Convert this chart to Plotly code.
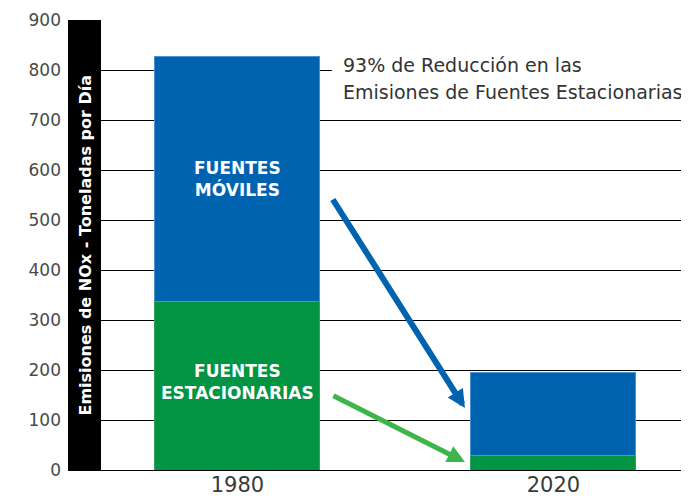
import plotly.graph_objects as go

years = ["1980", "2020"]
x_pos = [0, 1]
estacionarias = [338, 29]
moviles = [490, 166]
y_ticks = [0, 100, 200, 300, 400, 500, 600, 700, 800, 900]

BLUE = "#0063b0"
GREEN = "#009443"
FONT = "DejaVu Sans"
X_RANGE = [-0.536, 1.429]

fig = go.Figure()
fig.add_trace(go.Bar(x=x_pos, y=estacionarias, marker=dict(color=GREEN, line=dict(color="#2fa35a", width=1)),
                     width=0.522, showlegend=False, hoverinfo="skip"))
fig.add_trace(go.Bar(x=x_pos, y=moviles, marker=dict(color=BLUE, line=dict(color="#4f92d4", width=1)),
                     width=0.522, showlegend=False, hoverinfo="skip"))

# body has an 8px default margin in the page, so compensate
fig.update_layout(
    barmode="stack",
    width=681, height=496,
    margin=dict(l=60, r=0, t=12, b=34, pad=0),
    paper_bgcolor="white", plot_bgcolor="white",
    font=dict(family=FONT, color="#444"),
    xaxis=dict(range=X_RANGE, tickvals=x_pos, ticktext=years, showgrid=False,
               zeroline=False, tickfont=dict(family=FONT, size=21, color="#3a3a3a"),
               ticks="", showline=False),
    yaxis=dict(range=[0, 900], tickvals=y_ticks, showgrid=True, gridcolor="black", gridwidth=1,
               zeroline=True, zerolinecolor="black", zerolinewidth=1,
               tickfont=dict(family=FONT, size=17, color="#4a4a4a"), ticks="",
               ticklabelstandoff=6),
)

# black band behind the y-axis title
fig.add_shape(type="rect", xref="paper", yref="paper", x0=0, x1=33/621, y0=0, y1=1,
              fillcolor="black", line=dict(width=0), layer="above")
fig.add_annotation(xref="paper", yref="paper", x=16.5/621, y=0.5, xanchor="center", yanchor="middle",
                   text="<b>Emisiones de NOx - Toneladas por Día</b>", textangle=-90,
                   showarrow=False, font=dict(family=FONT, size=16, color="white"))

# white box behind the note (hides grid lines)
fig.add_shape(type="rect", xref="x", yref="y", x0=0.299, x1=X_RANGE[1], y0=726, y1=842,
              fillcolor="white", line=dict(width=0), layer="between")

fig.add_annotation(x=0, y=582, text="<b>FUENTES<br>MÓVILES</b>", xanchor="center", yanchor="middle",
                   showarrow=False, font=dict(family=FONT, size=17, color="white"))
fig.add_annotation(x=0, y=176, text="<b>FUENTES<br>ESTACIONARIAS</b>", xanchor="center", yanchor="middle",
                   showarrow=False, font=dict(family=FONT, size=17, color="white"))

fig.add_annotation(xref="x", yref="y", x=0.328, y=810, xanchor="left", yanchor="middle",
                   text="93% de Reducción en las", align="left", showarrow=False,
                   font=dict(family=FONT, size=19, color="#333"))
fig.add_annotation(xref="x", yref="y", x=0.328, y=756, xanchor="left", yanchor="middle",
                   text="Emisiones de Fuentes Estacionarias", align="left", showarrow=False,
                   font=dict(family=FONT, size=19, color="#333"))

fig.add_annotation(x=0.72, y=124, ax=0.299, ay=544, axref="x", ayref="y", xref="x", yref="y",
                   text="", showarrow=True, arrowhead=2, arrowsize=0.6, arrowwidth=6, arrowcolor=BLUE)
fig.add_annotation(x=0.72, y=16, ax=0.299, ay=150, axref="x", ayref="y", xref="x", yref="y",
                   text="", showarrow=True, arrowhead=2, arrowsize=0.7, arrowwidth=5, arrowcolor="#3cb54a")

fig.write_html("out.html")
